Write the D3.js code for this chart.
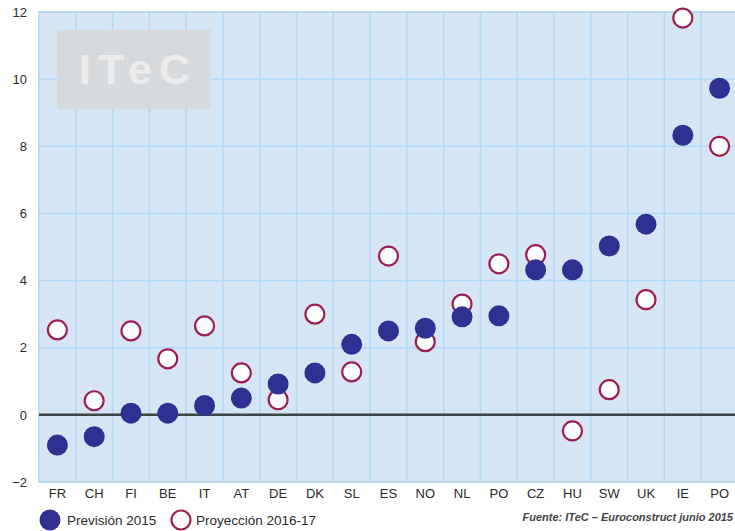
<!DOCTYPE html>
<html>
<head>
<meta charset="utf-8">
<script src="https://cdn.jsdelivr.net/npm/d3@7"></script>
<style>
  body { margin: 0; background: #fff; }
  svg { display: block; font-family: "Liberation Sans", Arial, sans-serif; }
</style>
</head>
<body>
<div id="chart"></div>
<script>
// Data
var countries = ["FR", "CH", "FI", "BE", "IT", "AT", "DE", "DK", "SL", "ES", "NO", "NL", "PO", "CZ", "HU", "SW", "UK", "IE", "PO"];
var prevision2015 = [-0.9, -0.65, 0.05, 0.05, 0.28, 0.5, 0.92, 1.25, 2.1, 2.5, 2.58, 2.92, 2.95, 4.32, 4.32, 5.03, 5.68, 8.33, 9.73];
var proyeccion1617 = [2.53, 0.42, 2.5, 1.67, 2.65, 1.25, 0.45, 3.0, 1.28, 4.73, 2.18, 3.3, 4.5, 4.77, -0.48, 0.75, 3.43, 11.82, 8.0];
var yTicks = [-2, 0, 2, 4, 6, 8, 10, 12];

var W = 735, H = 531;
var margin = {top: 12, left: 39},
    plotW = 699,   // plot runs slightly past the right edge, like the picture
    plotH = 470;

var svg = d3.select("#chart")
  .append("svg")
    .attr("width", W)
    .attr("height", H);

var x = d3.scaleBand()
    .domain(d3.range(countries.length))
    .range([margin.left, margin.left + plotW])
    .padding(0);

var y = d3.scaleLinear()
    .domain([-2, 12])
    .range([margin.top + plotH, margin.top]);

// plot background
svg.append("rect")
    .attr("x", margin.left)
    .attr("y", margin.top)
    .attr("width", plotW)
    .attr("height", plotH)
    .attr("fill", "#d5e5f4")
    .attr("stroke", "#bcdcf4")
    .attr("stroke-width", 2);

// vertical grid lines between categories
svg.append("g")
  .selectAll("line")
  .data(d3.range(1, countries.length))
  .enter()
  .append("line")
    .attr("x1", function(d) { return x(d); })
    .attr("x2", function(d) { return x(d); })
    .attr("y1", margin.top)
    .attr("y2", margin.top + plotH)
    .attr("stroke", "#b3d8f3")
    .attr("stroke-width", 1.5);

// horizontal grid lines
svg.append("g")
  .selectAll("line")
  .data(yTicks.filter(function(d) { return d !== 0; }))
  .enter()
  .append("line")
    .attr("x1", margin.left)
    .attr("x2", margin.left + plotW)
    .attr("y1", function(d) { return y(d); })
    .attr("y2", function(d) { return y(d); })
    .attr("stroke", "#b3d8f3")
    .attr("stroke-width", 1.5);

// ITeC watermark
svg.append("rect")
    .attr("x", 57)
    .attr("y", 30)
    .attr("width", 154)
    .attr("height", 79)
    .attr("fill", "#d6dadd");
svg.append("text")
    .attr("x", 138)
    .attr("y", 84)
    .attr("text-anchor", "middle")
    .attr("font-size", 43)
    .attr("font-weight", "bold")
    .attr("letter-spacing", 7)
    .attr("fill", "#ececec")
    .text("ITeC");

// zero line
svg.append("line")
    .attr("x1", margin.left)
    .attr("x2", margin.left + plotW)
    .attr("y1", y(0))
    .attr("y2", y(0))
    .attr("stroke", "#3f4446")
    .attr("stroke-width", 2.5);

// Y axis
var yAxis = svg.append("g")
    .attr("transform", "translate(" + margin.left + ",0)")
    .call(d3.axisLeft(y).tickValues(yTicks).tickSize(0).tickPadding(12));
yAxis.select(".domain").remove();
yAxis.selectAll("text")
    .attr("font-size", 13)
    .attr("fill", "#2a2a2a")
    .attr("font-family", "Liberation Sans, Arial, sans-serif");

// X axis
var xAxis = svg.append("g")
    .attr("transform", "translate(0," + (margin.top + plotH) + ")")
    .call(d3.axisBottom(x).tickFormat(function(i) { return countries[i]; }).tickSize(0).tickPadding(7));
xAxis.select(".domain").remove();
xAxis.selectAll("text")
    .attr("font-size", 13)
    .attr("fill", "#2a2a2a")
    .attr("font-family", "Liberation Sans, Arial, sans-serif");

var cx = function(d, i) { return x(i) + x.bandwidth() / 2; };

// Proyección 2016-17 (open circles)
svg.append("g")
  .selectAll("circle")
  .data(proyeccion1617)
  .enter()
  .append("circle")
    .attr("cx", cx)
    .attr("cy", function(d) { return y(d); })
    .attr("r", 9.5)
    .attr("fill", "#fff")
    .attr("stroke", "#9c1f52")
    .attr("stroke-width", 2.2);

// Previsión 2015 (filled circles)
svg.append("g")
  .selectAll("circle")
  .data(prevision2015)
  .enter()
  .append("circle")
    .attr("cx", cx)
    .attr("cy", function(d) { return y(d); })
    .attr("r", 10.5)
    .attr("fill", "#2e3192");

// Legend
var legend = svg.append("g");
legend.append("circle")
    .attr("cx", 50).attr("cy", 520).attr("r", 10.5)
    .attr("fill", "#2e3192");
legend.append("text")
    .attr("x", 67).attr("y", 525)
    .attr("font-size", 13.5).attr("fill", "#2a2a2a")
    .text("Previsión 2015");
legend.append("circle")
    .attr("cx", 181).attr("cy", 520).attr("r", 9.5)
    .attr("fill", "#fff").attr("stroke", "#9c1f52").attr("stroke-width", 2.2);
legend.append("text")
    .attr("x", 196).attr("y", 525)
    .attr("font-size", 13.5).attr("fill", "#2a2a2a")
    .text("Proyección 2016-17");

// source
svg.append("text")
    .attr("x", 733)
    .attr("y", 521)
    .attr("text-anchor", "end")
    .attr("font-size", 11)
    .attr("font-style", "italic")
    .attr("font-weight", "bold")
    .attr("fill", "#444")
    .text("Fuente: ITeC – Euroconstruct junio 2015");
</script>
</body>
</html>
